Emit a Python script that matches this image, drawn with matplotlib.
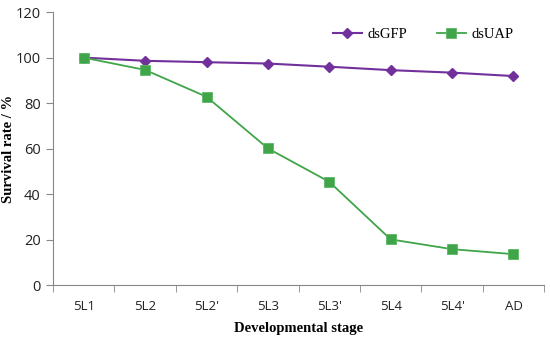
import matplotlib
matplotlib.use("Agg")
import matplotlib.pyplot as plt
import numpy as np

stages = ["5L1", "5L2", "5L2'", "5L3", "5L3'", "5L4", "5L4'", "AD"]
dsgfp = [100, 98.6, 98.0, 97.4, 96.0, 94.5, 93.4, 91.9]
dsuap = [100, 94.6, 82.8, 60.1, 45.4, 20.1, 15.8, 13.6]


def main():
    fig = plt.figure(figsize=(5.5, 3.37), dpi=100)
    ax = fig.add_axes([0.0964, 0.154, 0.893, 0.81])

    x = np.arange(len(stages))
    ax.plot(x, dsgfp, color="#71309B", marker="D", markersize=5.5, lw=1.5,
            label="dsGFP")
    ax.plot(x, dsuap, color="#3FA548", marker="s", markersize=7, lw=1.3,
            markeredgecolor="#5DB765", markeredgewidth=0.6, label="dsUAP")

    ax.set_xlim(-0.5, len(stages) - 0.5)
    ax.set_ylim(0, 120)
    ax.set_yticks(range(0, 121, 20))
    ax.set_xticks(x)
    ax.set_xticklabels(stages)
    ax.set_xticks(np.arange(-0.5, len(stages), 1), minor=True)
    ax.tick_params(axis="x", which="major", length=0, pad=11)
    ax.tick_params(axis="x", which="minor", length=5, color="#888888")
    ax.tick_params(axis="y", length=5, color="#888888", pad=4)
    for lab in ax.get_xticklabels() + ax.get_yticklabels():
        lab.set_fontfamily("Open Sans")
        lab.set_color("#222222")
    for lab in ax.get_xticklabels():
        lab.set_fontsize(9.5)
    for lab in ax.get_yticklabels():
        lab.set_fontsize(10.5)

    for s in ["top", "right"]:
        ax.spines[s].set_visible(False)
    for s in ["left", "bottom"]:
        ax.spines[s].set_color("#888888")

    ax.set_xlabel("Developmental stage", fontfamily="Liberation Serif",
                  fontweight="bold", fontsize=10.5)
    ax.set_ylabel("Survival rate / %", fontfamily="Liberation Serif",
                  fontweight="bold", fontsize=10.5)
    ax.xaxis.set_label_coords(0.5, -0.135)
    ax.yaxis.set_label_coords(-0.077, 0.5)

    ax.legend(loc="upper right", bbox_to_anchor=(0.965, 0.99), ncol=2,
              frameon=False, prop={"family": "Liberation Serif", "size": 10.5},
              handlelength=2.0, columnspacing=2.0, handletextpad=0.4)

    fig.savefig("out.png", dpi=100)


if __name__ == "__main__":
    main()
